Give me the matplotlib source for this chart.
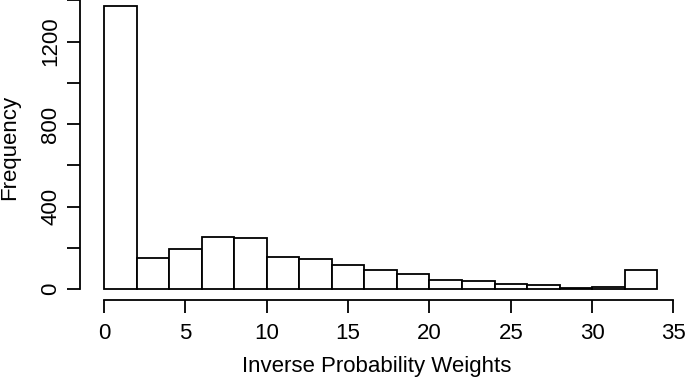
import matplotlib
matplotlib.use("Agg")
import matplotlib.pyplot as plt
import numpy as np

# histogram of inverse probability weights (bins of width 2)
bin_edges = [0, 2, 4, 6, 8, 10, 12, 14, 16, 18, 20, 22, 24, 26, 28, 30, 32, 34]
counts = [1372, 153, 197, 255, 249, 158, 148, 116, 94, 74, 44, 42, 25, 21, 8, 10, 95]
x_ticks = [0, 5, 10, 15, 20, 25, 30, 35]
y_ticks = [0, 200, 400, 600, 800, 1000, 1200, 1400]
y_labels = ["0", "", "400", "", "800", "", "1200", ""]

plt.rcParams['font.family'] = ['Liberation Sans', 'DejaVu Sans']

fig = plt.figure(figsize=(6.85, 3.81), dpi=100)
ax = fig.add_axes([0.1168, 0.2126, 0.8759, 0.7953])

left = bin_edges[:-1]
widths = np.diff(bin_edges)
ax.bar(left, counts, width=widths, align='edge', facecolor='white',
       edgecolor='black', linewidth=1.3)

ax.set_xlim(-1.475, 35.4)
ax.set_ylim(-52, 1416)

for s in ['top', 'right']:
    ax.spines[s].set_visible(False)
ax.spines['left'].set_bounds(0, 1400)
ax.spines['bottom'].set_bounds(0, 35)
for s in ['left', 'bottom']:
    ax.spines[s].set_linewidth(1.3)

ax.set_xticks(x_ticks)
ax.set_yticks(y_ticks)
ax.set_yticklabels(y_labels, rotation=90, va='center')
ax.tick_params(axis='both', length=9.5, width=1.3, labelsize=16)
ax.tick_params(axis='x', pad=7)
ax.tick_params(axis='y', pad=4)

ax.set_xlabel('Inverse Probability Weights', fontsize=16)
ax.xaxis.set_label_coords(0.494, -0.221)
ax.xaxis.label.set_va('center')
ax.set_ylabel('Frequency', fontsize=16)
ax.yaxis.set_label_coords(-0.1167, 0.505)
ax.yaxis.label.set_va('center')

fig.savefig('out.png', dpi=100)
